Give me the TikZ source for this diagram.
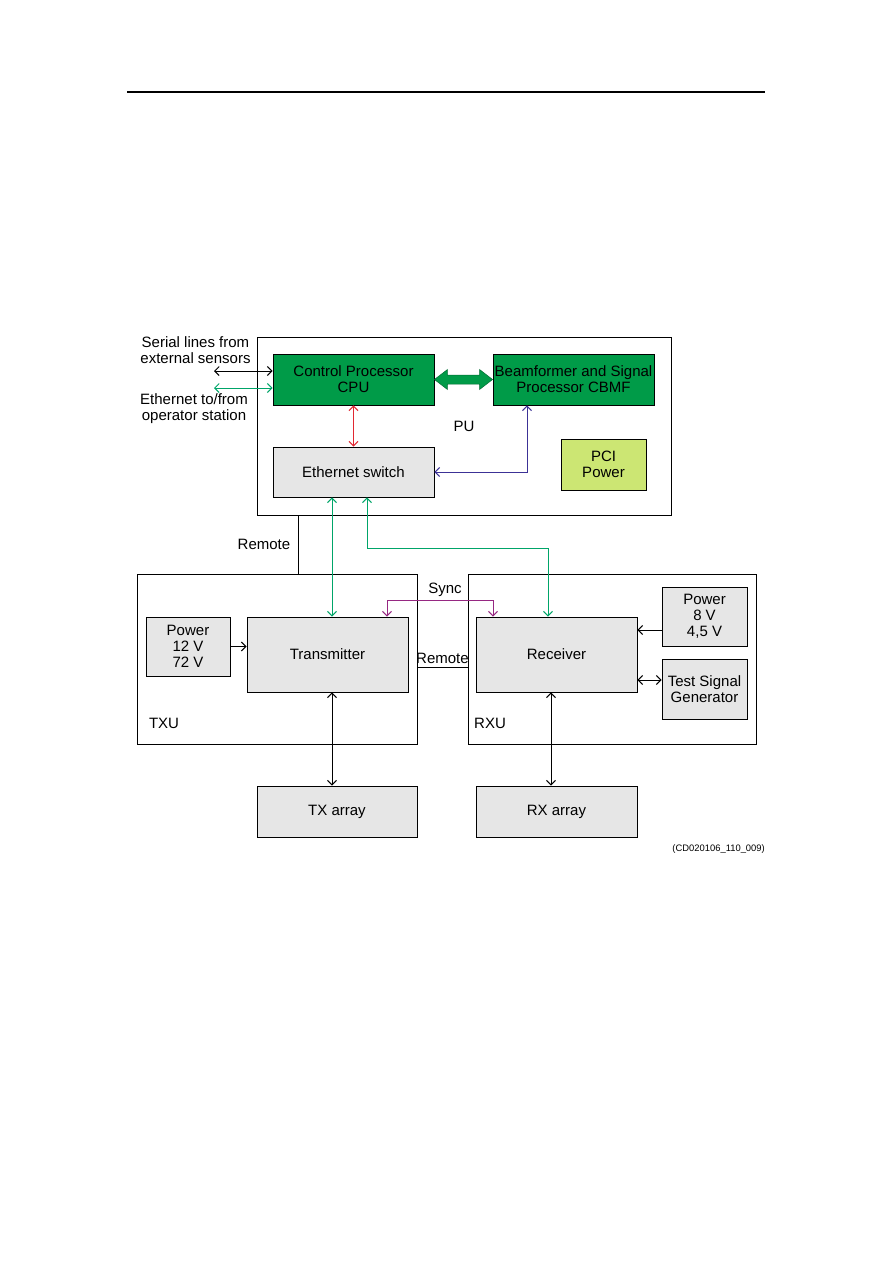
\documentclass[tikz,border=0pt]{standalone}
\usepackage{fontspec}
\setmainfont{Liberation Sans}
\usetikzlibrary{arrows.meta,calc}
\definecolor{boxgreen}{RGB}{0,155,72}
\definecolor{boxgray}{RGB}{230,230,230}
\definecolor{boxlime}{RGB}{204,230,115}
\definecolor{linegreen}{RGB}{0,165,105}
\definecolor{linered}{RGB}{225,40,50}
\definecolor{lineblue}{RGB}{60,50,150}
\definecolor{linepurple}{RGB}{150,40,130}
\begin{document}
\begin{tikzpicture}[x=1pt,y=-1pt,
  >={Straight Barb[length=4.5pt,width=9pt,line width=1pt]},
  txt/.style={font=\fontsize{15}{16}\selectfont, align=center, inner sep=0pt},
  unit/.style={draw, line width=0.9pt, fill=white, inner sep=0pt},
  gbox/.style={draw, line width=0.9pt, fill=boxgray, txt},
  grbox/.style={draw, line width=0.9pt, fill=boxgreen, txt},
  lbox/.style={draw, line width=0.9pt, fill=boxlime, txt},
  conn/.style={line width=0.9pt},
]
\useasboundingbox (0,0) rectangle (893,1263);
% header rule
\coordinate (hl) at (127,92);
\coordinate (hr) at (765,92);
\draw[line width=1.3pt] (hl) -- (hr);

% PU
\node[unit, minimum width=414pt, minimum height=178pt] (pu) at (464,426) {};
\node[txt] (pulbl) at (464,426) {PU};
\node[grbox, minimum width=161pt, minimum height=51pt] (cpu) at (353.5,379.5) {Control Processor\\CPU};
\node[grbox, minimum width=161pt, minimum height=51pt] (cbmf) at (573.5,379.5) {Beamformer and Signal\\Processor CBMF};
\node[gbox, minimum width=161pt, minimum height=50pt] (sw) at (353.5,472) {Ethernet switch};
\node[lbox, minimum width=85pt, minimum height=51pt] (pci) at (603.5,464.5) {PCI\\Power};

% fat double arrow CPU <-> CBMF
\filldraw[fill=boxgreen, draw=boxgreen!70!black, line width=0.5pt]
  (cpu.east) -- ($(cpu.east)+(13,-10)$) -- ($(cpu.east)+(13,-4.5)$)
  -- ($(cbmf.west)+(-13,-4.5)$) -- ($(cbmf.west)+(-13,-10)$) -- (cbmf.west)
  -- ($(cbmf.west)+(-13,10)$) -- ($(cbmf.west)+(-13,4.5)$)
  -- ($(cpu.east)+(13,4.5)$) -- ($(cpu.east)+(13,10)$) -- cycle;

% external labels
\node[txt] (serial) at (195.5,350) {Serial lines from\\external sensors};
\node[txt] (eth) at (194,409) {Ethernet to/from\\operator station};
\coordinate (serend) at (214,371);
\coordinate (ethend) at (214,388);
\draw[conn,<->] (serend) -- (cpu.west |- serend);
\draw[conn,<->,linegreen] (ethend) -- (cpu.west |- ethend);

% CPU <-> switch
\draw[conn,<->,linered] (cpu.south) -- (sw.north);
% CBMF <-> switch
\draw[conn,<->,lineblue] (cbmf.south -| 527,0) |- (sw.east);

% TXU
\node[unit, minimum width=280pt, minimum height=170pt] (txu) at (277,659) {};
\node[txt] (txulbl) at (164,723) {TXU};
\node[gbox, minimum width=84pt, minimum height=59pt] (pw1) at (188,646.5) {Power\\12 V\\72 V};
\node[gbox, minimum width=161pt, minimum height=75pt] (tx) at (327.5,654.5) {Transmitter};

% RXU
\node[unit, minimum width=288pt, minimum height=170pt] (rxu) at (612,659) {};
\node[txt] (rxulbl) at (490,723) {RXU};
\node[gbox, minimum width=161pt, minimum height=75pt] (rx) at (556.5,654.5) {Receiver};
\node[gbox, minimum width=85pt, minimum height=59pt] (pw2) at (704.5,616.5) {Power\\8 V\\4,5 V};
\node[gbox, minimum width=85pt, minimum height=60pt] (tsg) at (704.5,689) {Test Signal\\Generator};

% arrays
\node[gbox, minimum width=160pt, minimum height=51pt] (txa) at (337,811.5) {TX array};
\node[gbox, minimum width=161pt, minimum height=51pt] (rxa) at (556.5,811.5) {RX array};

% Remote PU - TXU
\draw[conn] (pu.south -| 298,0) -- (txu.north -| 298,0);
\node[txt] (rem1) at (264,544) {Remote};
% Remote TXU - RXU
\draw[conn] (txu.east |- 0,667) -- (rxu.west |- 0,667);
\node[txt] (rem2) at (442.5,658) {Remote};

% switch <-> transmitter / receiver
\draw[conn,<->,linegreen] (sw.south -| 332,0) -- (tx.north -| 332,0);
\draw[conn,<->,linegreen] (sw.south -| 367,0) -- (367,548) -| (rx.north -| 548,0);

% Sync
\draw[conn,<->,linepurple] (tx.north -| 387,0) -- (387,600) -| (rx.north -| 493,0);
\node[txt] (sync) at (445,590) {Sync};

% power / test signal
\draw[conn,->] (pw1.east) -- (tx.west |- pw1.east);
\draw[conn,->] (pw2.west |- 0,630) -- (rx.east |- 0,630);
\draw[conn,<->] (rx.east |- 0,680) -- (tsg.west |- 0,680);

% arrays
\draw[conn,<->] (tx.south -| 332,0) -- (txa.north -| 332,0);
\draw[conn,<->] (rx.south -| 551,0) -- (rxa.north -| 551,0);

% figure id
\node[font=\fontsize{9.4}{11}\selectfont, anchor=east, inner sep=0pt] (figid) at (765,849) {(CD020106\_110\_009)};
\end{tikzpicture}
\end{document}
